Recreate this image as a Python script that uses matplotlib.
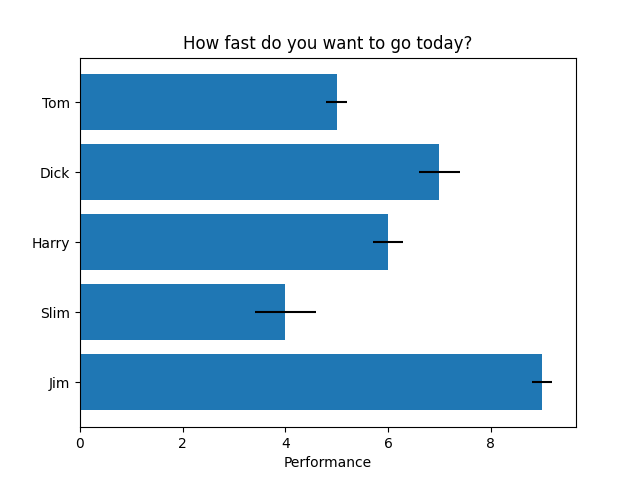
import matplotlib
matplotlib.use("Agg")
import matplotlib.pyplot as plt
import numpy as np

people = ['Tom', 'Dick', 'Harry', 'Slim', 'Jim']
performance = [5.0, 7.0, 6.0, 4.0, 9.0]
error = [0.2, 0.4, 0.3, 0.6, 0.2]

fig, ax = plt.subplots(figsize=(6.4, 4.8), dpi=100)
y_pos = np.arange(len(people))
ax.barh(y_pos, performance, xerr=error, align='center')
ax.set_yticks(y_pos, labels=people)
ax.invert_yaxis()
ax.set_xlabel('Performance')
ax.set_title('How fast do you want to go today?')

fig.savefig('out.png')
